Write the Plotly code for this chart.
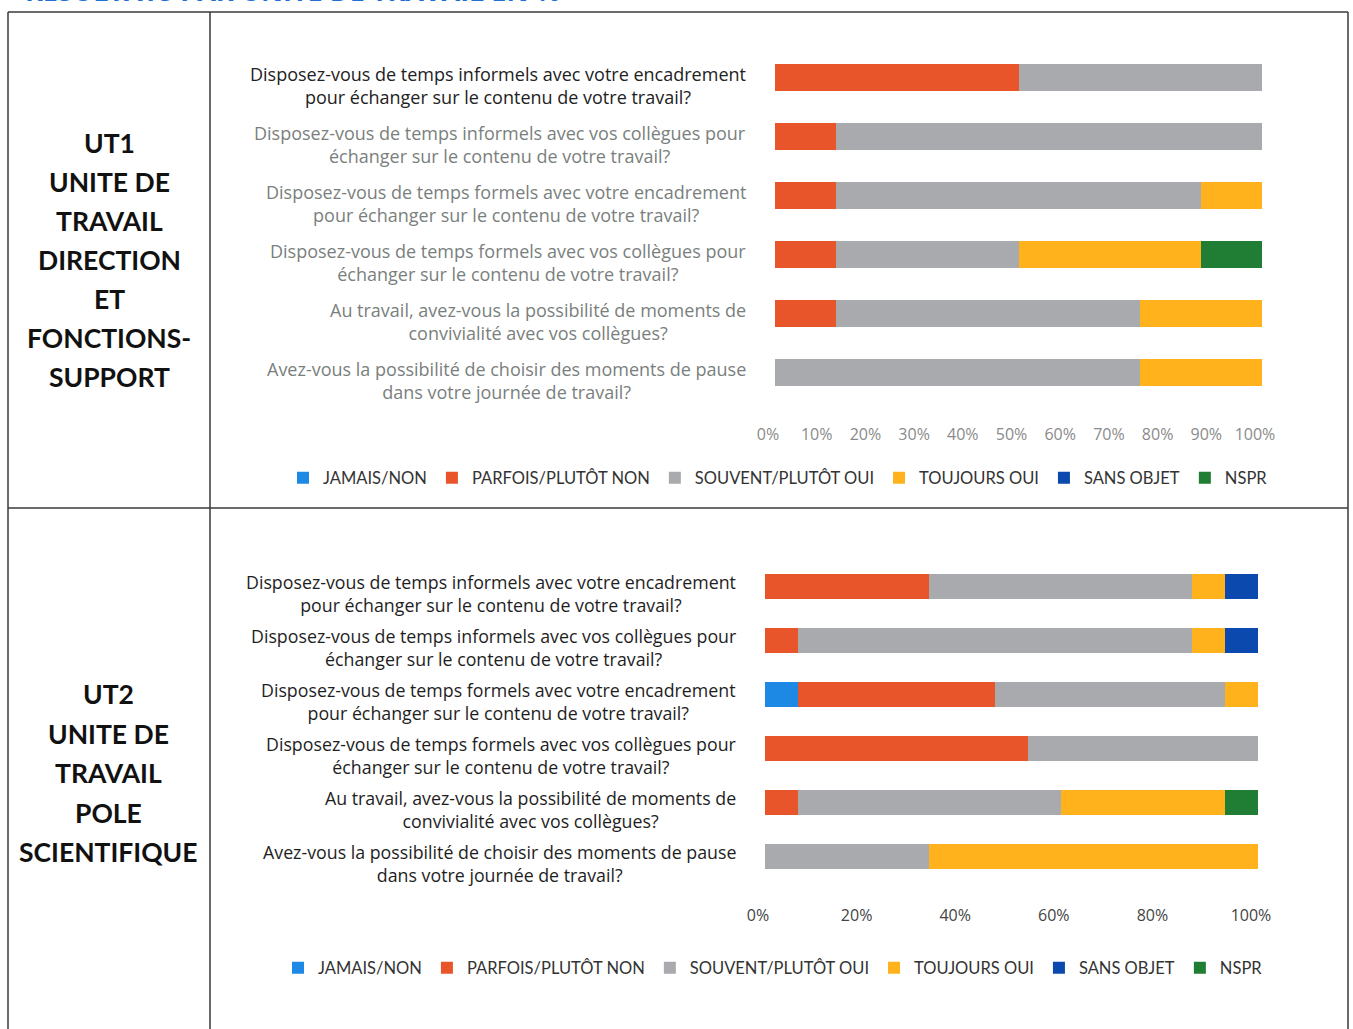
import plotly.graph_objects as go

# ---------------- data ----------------
questions = [
    "Disposez-vous de temps informels avec votre encadrement<br>pour échanger sur le contenu de votre travail?",
    "Disposez-vous de temps informels avec vos collègues pour<br>échanger sur le contenu de votre travail?",
    "Disposez-vous de temps formels avec votre encadrement<br>pour échanger sur le contenu de votre travail?",
    "Disposez-vous de temps formels avec vos collègues pour<br>échanger sur le contenu de votre travail?",
    "Au travail, avez-vous la possibilité de moments de<br>convivialité avec vos collègues?",
    "Avez-vous la possibilité de choisir des moments de pause<br>dans votre journée de travail?",
]
series_names = ["JAMAIS/NON", "PARFOIS/PLUTÔT NON", "SOUVENT/PLUTÔT OUI",
                "TOUJOURS OUI", "SANS OBJET", "NSPR"]
series_colors = ["#1E88E5", "#E8552A", "#A8AAAD", "#FFB21C", "#0B49AE", "#1F7D34"]

# UT1 (%)
ut1_jamais   = [0, 0, 0, 0, 0, 0]
ut1_parfois  = [50, 12.5, 12.5, 12.5, 12.5, 0]
ut1_souvent  = [50, 87.5, 75, 37.5, 62.5, 75]
ut1_toujours = [0, 0, 12.5, 37.5, 25, 25]
ut1_sans     = [0, 0, 0, 0, 0, 0]
ut1_nspr     = [0, 0, 0, 12.5, 0, 0]

# UT2 (%)
ut2_jamais   = [0, 0, 6.7, 0, 0, 0]
ut2_parfois  = [33.3, 6.7, 40, 53.3, 6.7, 0]
ut2_souvent  = [53.3, 80, 46.7, 46.7, 53.3, 33.3]
ut2_toujours = [6.7, 6.7, 6.7, 0, 33.3, 66.7]
ut2_sans     = [6.7, 6.7, 0, 0, 0, 0]
ut2_nspr     = [0, 0, 0, 0, 6.7, 0]

ut1_ticks = [0, 10, 20, 30, 40, 50, 60, 70, 80, 90, 100]
ut2_ticks = [0, 20, 40, 60, 80, 100]

ut1_label = ["UT1", "UNITE DE", "TRAVAIL", "DIRECTION", "ET", "FONCTIONS-", "SUPPORT"]
ut2_label = ["UT2", "UNITE DE", "TRAVAIL", "POLE", "SCIENTIFIQUE"]
title_text = "RESULTATS PAR UNITE DE TRAVAIL EN %"

W, H = 1353, 1029
FONT = "Lato"
QFONT = "Open Sans"

def px(x):
    return x / W

def py(y):
    return 1 - y / H

ut1_series = [ut1_jamais, ut1_parfois, ut1_souvent, ut1_toujours, ut1_sans, ut1_nspr]
ut2_series = [ut2_jamais, ut2_parfois, ut2_souvent, ut2_toujours, ut2_sans, ut2_nspr]
ncat = len(questions)

fig = go.Figure()
for name, col, vals in zip(series_names, series_colors, ut1_series):
    fig.add_trace(go.Bar(x=vals, y=questions, orientation="h", name=name,
                         marker=dict(color=col, line=dict(width=0)),
                         xaxis="x", yaxis="y", legend="legend", width=0.46,
                         hoverinfo="x+name"))
for name, col, vals in zip(series_names, series_colors, ut2_series):
    fig.add_trace(go.Bar(x=vals, y=questions, orientation="h", name=name,
                         marker=dict(color=col, line=dict(width=0)),
                         xaxis="x2", yaxis="y2", legend="legend2", width=0.46,
                         hoverinfo="x+name"))

annotations = []
# question labels
for i, q in enumerate(questions):
    annotations.append(dict(text=q, x=px(748), xref="paper", xanchor="right",
                            y=q, yref="y", yanchor="middle", yshift=-8,
                            align="center", showarrow=False,
                            font=dict(family=QFONT, size=18,
                                      color="#222" if i == 0 else "#7a7f7d")))
    annotations.append(dict(text=q, x=px(738), xref="paper", xanchor="right",
                            y=q, yref="y2", yanchor="middle", yshift=-7,
                            align="center", showarrow=False,
                            font=dict(family=QFONT, size=17.8, color="#1e1e1e")))
# left labels
for i, line in enumerate(ut1_label):
    annotations.append(dict(text=f"<b>{line}</b>", x=px(109), xref="paper", xanchor="center",
                            y=py(143 + 39 * i), yref="paper", yanchor="middle",
                            showarrow=False, font=dict(family=FONT, size=26.5, color="#111")))
for i, line in enumerate(ut2_label):
    annotations.append(dict(text=f"<b>{line}</b>", x=px(108), xref="paper", xanchor="center",
                            y=py(694 + 39.5 * i), yref="paper", yanchor="middle",
                            showarrow=False, font=dict(family=FONT, size=26.5, color="#111")))
# title (cut at top)
annotations.append(dict(text=f"<b>{title_text}</b>", x=px(562), xref="paper", xanchor="right",
                        y=py(-9), yref="paper", yanchor="middle", showarrow=False,
                        font=dict(family=QFONT, size=27, color="#1F6FD6")))

line_col = "#3a3a3a"
shapes = [
    dict(type="line", xref="paper", yref="paper", x0=px(8), x1=px(1348), y0=py(12), y1=py(12),
         line=dict(color=line_col, width=1.5)),
    dict(type="line", xref="paper", yref="paper", x0=px(8), x1=px(1348), y0=py(508), y1=py(508),
         line=dict(color=line_col, width=1.5)),
    dict(type="line", xref="paper", yref="paper", x0=px(8), x1=px(8), y0=py(12), y1=py(1029),
         line=dict(color=line_col, width=1.5)),
    dict(type="line", xref="paper", yref="paper", x0=px(210), x1=px(210), y0=py(12), y1=py(1029),
         line=dict(color=line_col, width=1.5)),
    dict(type="line", xref="paper", yref="paper", x0=px(1348), x1=px(1348), y0=py(12), y1=py(1029),
         line=dict(color=line_col, width=1.5)),
]

fig.update_layout(
    width=W, height=H, margin=dict(l=0, r=0, t=0, b=0, autoexpand=False),
    paper_bgcolor="white", plot_bgcolor="white",
    barmode="stack", bargap=0.5,
    showlegend=True,
    font=dict(family=FONT),
    xaxis=dict(domain=[px(775), px(1262)], range=[0, 100], anchor="y",
               tickvals=ut1_ticks, ticktext=[f"{t}%" for t in ut1_ticks],
               showgrid=False, zeroline=False, showline=False, ticks="",
               ticklabelstandoff=21, ticklabelshift=-7,
               tickfont=dict(family=QFONT, size=16, color="#8a8a8a"), fixedrange=True),
    yaxis=dict(domain=[py(401.5), py(48.5)], anchor="x", type="category",
               categoryorder="array", categoryarray=questions,
               range=[ncat - 0.5, -0.5], autorange=False,
               showticklabels=False, showgrid=False, zeroline=False, ticks="", fixedrange=True),
    xaxis2=dict(domain=[px(765), px(1258)], range=[0, 100], anchor="y2",
                tickvals=ut2_ticks, ticktext=[f"{t}%" for t in ut2_ticks],
                showgrid=False, zeroline=False, showline=False, ticks="",
                ticklabelstandoff=20, ticklabelshift=-7,
                tickfont=dict(family=QFONT, size=16, color="#444"), fixedrange=True),
    yaxis2=dict(domain=[py(884), py(559)], anchor="x2", type="category",
                categoryorder="array", categoryarray=questions,
                range=[ncat - 0.5, -0.5], autorange=False,
                showticklabels=False, showgrid=False, zeroline=False, ticks="", fixedrange=True),
    legend=dict(orientation="h", x=px(778), xanchor="center", y=py(478), yanchor="middle",
                traceorder="normal", font=dict(family=FONT, size=16.5, color="#333"),
                bgcolor="rgba(0,0,0,0)"),
    legend2=dict(orientation="h", x=px(773), xanchor="center", y=py(968), yanchor="middle",
                 traceorder="normal", font=dict(family=FONT, size=16.5, color="#333"),
                 bgcolor="rgba(0,0,0,0)"),
    annotations=annotations,
    shapes=shapes,
)

fig.write_html("out.html")
